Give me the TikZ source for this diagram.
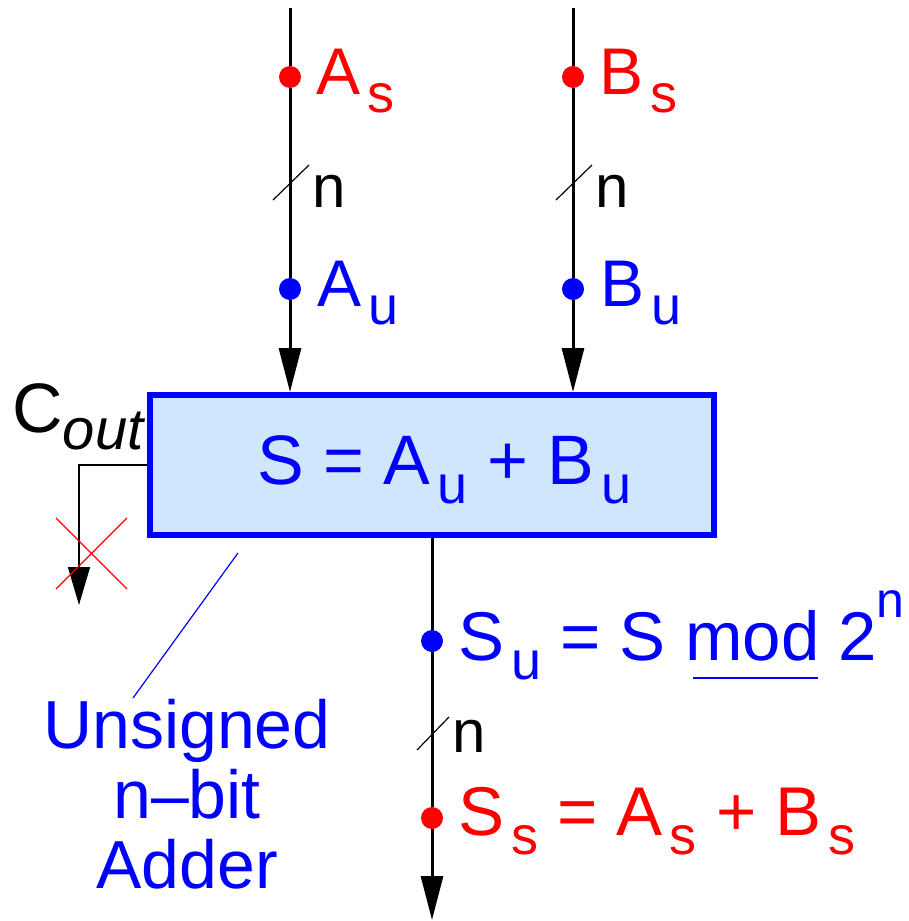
\documentclass[tikz,border=0pt]{standalone}
\usepackage{fontspec}
\setmainfont{Liberation Sans}
\usetikzlibrary{arrows.meta,positioning}
\definecolor{sigred}{HTML}{FF0000}
\definecolor{sigblue}{HTML}{0000FF}
\definecolor{boxfill}{HTML}{D0E6FC}
\newcommand{\lo}[1]{\kern0.1em\raisebox{-0.28em}{\fontsize{27}{27}\selectfont #1}}
\newcommand{\hi}[1]{\raisebox{0.62em}{\fontsize{25}{25}\selectfont #1}}

\begin{document}
\begin{tikzpicture}[x=0.5pt,y=-0.5pt,
  bus/.style={line width=1.5pt},
  bustip/.style={-{Triangle[length=22pt,width=11pt]}},
  sigdot/.style={circle,inner sep=0pt,minimum size=11pt},
  lbl/.style={anchor=base west,inner sep=0pt,font=\fontsize{33}{36}\selectfont},
  biglbl/.style={lbl,font=\fontsize{35}{38}\selectfont},
  outlbl/.style={lbl,font=\fontsize{34.5}{38}\selectfont},
  widthlbl/.style={anchor=base west,inner sep=0pt,font=\fontsize{30}{32}\selectfont},
  slash/.style={line width=0.6pt},
  thin/.style={line width=0.6pt}]
 \useasboundingbox (0,0) rectangle (909,921);
 % the adder
 \node[draw=sigblue,fill=boxfill,line width=3pt,minimum width=282pt,minimum height=70pt,inner sep=0pt] (adder) at (432,465) {};
 \node[biglbl,text=sigblue] (sumtxt) at (257,484) {S = A\lo{u} + B\lo{u}};
 % inputs
 \foreach \x/\nm in {290/A,573/B} {
  \coordinate (top\nm) at (\x,8);
  \node[sigdot,fill=sigred] (\nm s) at (\x,77) {};
  \node[sigdot,fill=sigblue] (\nm u) at (\x,289) {};
  \node[lbl,text=sigred] (\nm slbl) at (\x+26,94) {\nm\lo{s}};
  \node[lbl,text=sigblue] (\nm ulbl) at (\x+27,306) {\nm\lo{u}};
  \coordinate (\nm w1) at (\x-17,200);
  \coordinate (\nm w2) at (\x+19,165);
  \draw[slash] (\nm w1) -- (\nm w2);
  \node[widthlbl] (\nm n) at (\x+22,207) {n};
  \draw[bus,bustip] (top\nm) -- (\nm s) -- (\nm u) -- (adder.north -| top\nm);
 }
 % carry out, not used
 \node[biglbl] (cout) at (12,432)
    {C\raisebox{-0.25em}{\fontsize{29}{30}\selectfont\itshape out}};
 \coordinate (cbend) at (79,465);
 \coordinate (cend) at (79,605);
 \draw[thin,-{Triangle[length=19pt,width=11pt]}] (adder.west) -- (cbend) -- (cend);
 \coordinate (x1) at (56,518);
 \coordinate (x2) at (127,589);
 \coordinate (x3) at (127,518);
 \coordinate (x4) at (56,589);
 \draw[thin,sigred] (x1) -- (x2) (x3) -- (x4);
 % output
 \coordinate (outend) at (432,920);
 \node[sigdot,fill=sigblue] (Su) at (432,641) {};
 \node[sigdot,fill=sigred] (Ss) at (432,818) {};
 \draw[bus,bustip] (adder.south) -- (Su) -- (Ss) -- (outend);
 \node[outlbl,text=sigblue] (Sulbl) at (458,660)
    {S\lo{u} = S \makebox[0pt][l]{\color{sigblue}\kern0.12em\rule[-0.27em]{1.8em}{1pt}}mod 2\hi{n}};
 \node[outlbl,text=sigred] (Sslbl) at (458,835) {S\lo{s} = A\lo{s} + B\lo{s}};
 \coordinate (Sw1) at (417,750);
 \coordinate (Sw2) at (449,717);
 \draw[slash] (Sw1) -- (Sw2);
 \node[widthlbl] (Sn) at (452,752) {n};
 % name of the block
 \node[inner sep=0pt,align=center,text=sigblue,font=\fontsize{34}{35}\selectfont,anchor=base] (name) at (187,888)
    {Unsigned\\n--bit\\Adder};
 \coordinate (tag) at (238,553);
 \coordinate (tagend) at (133,698);
 \draw[thin,sigblue] (tag) -- (tagend);
\end{tikzpicture}
\end{document}
